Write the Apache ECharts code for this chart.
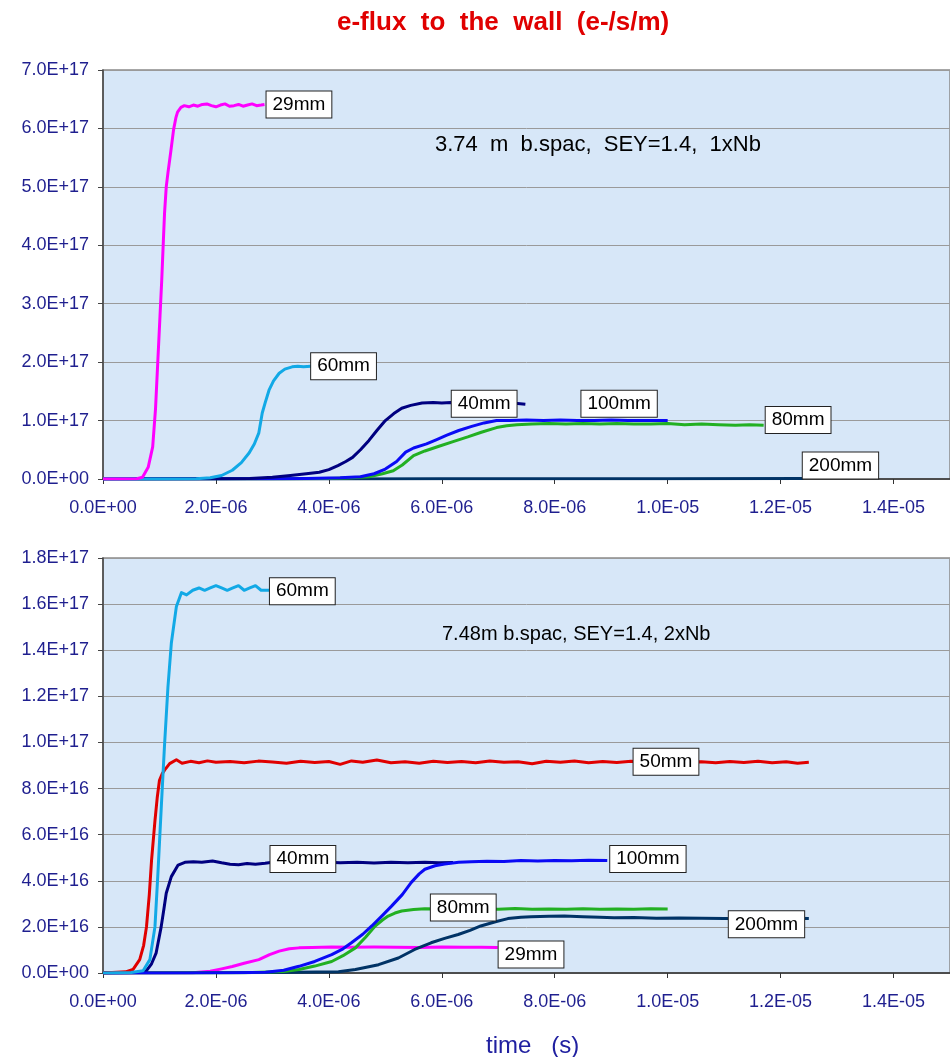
<!DOCTYPE html>
<html>
<head>
<meta charset="utf-8">
<script src="https://cdn.jsdelivr.net/npm/echarts@6/dist/echarts.min.js"></script>
<style>
html,body{margin:0;padding:0;background:#fff;}
#c{width:950px;height:1057px;}
</style>
</head>
<body>
<div id="c"></div>
<script>
// time in microseconds; top values in 1E17 e-/s/m, bottom values in 1E16 e-/s/m
const T_UNIT = 1e-6, TOP_UNIT = 1e17, BOT_UNIT = 1e16;

const xTicks = ['0.0E+00','2.0E-06','4.0E-06','6.0E-06','8.0E-06','1.0E-05','1.2E-05','1.4E-05'];

// ---------- top panel: 3.74 m b.spac, SEY=1.4, 1xNb ----------
const top29 = [[0,0],[0.3,0],[0.6,0.005],[0.7,0.03],[0.8,0.2],[0.88,0.55],[0.93,1.2],[0.97,2.0],[1.01,2.8],[1.04,3.4],[1.07,4.1],[1.09,4.55],[1.12,5.0],[1.15,5.24],[1.2,5.6],[1.25,5.98],[1.29,6.18],[1.32,6.28],[1.38,6.36],[1.44,6.39],[1.52,6.37],[1.6,6.40],[1.68,6.38],[1.76,6.41],[1.84,6.42],[1.92,6.39],[2.0,6.37],[2.08,6.40],[2.16,6.42],[2.24,6.38],[2.32,6.39],[2.4,6.41],[2.48,6.38],[2.56,6.40],[2.64,6.42],[2.72,6.39],[2.8,6.40],[2.86,6.41]];
const top60 = [[0,0],[1.0,0],[1.65,0.005],[1.9,0.02],[2.1,0.06],[2.29,0.15],[2.45,0.28],[2.59,0.45],[2.68,0.6],[2.76,0.79],[2.82,1.13],[2.87,1.3],[2.94,1.52],[3.02,1.68],[3.12,1.81],[3.22,1.88],[3.35,1.92],[3.45,1.93],[3.55,1.92],[3.68,1.93]];
const top40 = [[0,0],[2.0,0.003],[2.6,0.01],[3.0,0.03],[3.32,0.06],[3.6,0.09],[3.83,0.115],[4.0,0.16],[4.16,0.23],[4.3,0.3],[4.42,0.37],[4.56,0.5],[4.71,0.66],[4.85,0.83],[5.0,1.0],[5.15,1.12],[5.29,1.21],[5.45,1.26],[5.65,1.3],[5.85,1.31],[6.0,1.3],[6.16,1.31],[6.4,1.29],[6.7,1.3],[7.0,1.29],[7.25,1.3],[7.48,1.28]];
const top100 = [[0,0],[3.0,0.003],[3.6,0.01],[4.2,0.02],[4.56,0.04],[4.8,0.09],[5.0,0.17],[5.2,0.3],[5.36,0.46],[5.5,0.53],[5.73,0.6],[5.9,0.67],[6.09,0.75],[6.3,0.83],[6.53,0.9],[6.75,0.96],[6.97,1.0],[7.2,1.0],[7.5,1.01],[7.8,1.0],[8.1,1.01],[8.4,1.0],[8.7,1.0],[9.0,1.01],[9.3,1.0],[9.6,1.0],[10.0,1.0]];
const top80 = [[0,0],[3.2,0.003],[4.0,0.01],[4.4,0.02],[4.71,0.04],[4.95,0.09],[5.14,0.14],[5.3,0.24],[5.5,0.4],[5.7,0.48],[5.95,0.56],[6.2,0.64],[6.46,0.72],[6.7,0.8],[6.97,0.88],[7.15,0.91],[7.33,0.93],[7.6,0.94],[7.9,0.95],[8.2,0.94],[8.5,0.95],[8.8,0.94],[9.1,0.95],[9.4,0.94],[9.7,0.94],[10.0,0.95],[10.3,0.93],[10.6,0.94],[10.9,0.93],[11.2,0.92],[11.45,0.93],[11.7,0.92]];
const top200 = [[0,0],[4,0.002],[6,0.004],[8,0.005],[10,0.006],[12.4,0.007]];
const topLabels = [['29mm',3.47,6.41],['60mm',4.26,1.93],['40mm',6.75,1.29],['100mm',9.14,1.29],['80mm',12.31,1.01],['200mm',13.06,0.23]];

// ---------- bottom panel: 7.48m b.spac, SEY=1.4, 2xNb ----------
const bot60 = [[0,0],[0.5,0.02],[0.71,0.1],[0.83,0.58],[0.92,2.0],[0.97,4.2],[1.03,7.1],[1.09,9.9],[1.15,12.4],[1.21,14.3],[1.3,15.9],[1.39,16.5],[1.48,16.4],[1.59,16.6],[1.7,16.7],[1.8,16.6],[1.9,16.7],[2.0,16.8],[2.1,16.7],[2.2,16.6],[2.3,16.7],[2.4,16.8],[2.5,16.6],[2.6,16.7],[2.7,16.8],[2.8,16.6],[2.94,16.6]];
const bot50 = [[0,0],[0.4,0.05],[0.53,0.15],[0.65,0.58],[0.72,1.2],[0.77,2.0],[0.82,3.4],[0.86,4.9],[0.92,6.6],[0.96,7.6],[1.0,8.36],[1.05,8.65],[1.09,8.8],[1.18,9.08],[1.3,9.25],[1.4,9.1],[1.55,9.18],[1.7,9.12],[1.85,9.2],[2.0,9.14],[2.25,9.17],[2.5,9.12],[2.75,9.19],[3.0,9.15],[3.25,9.1],[3.5,9.18],[3.75,9.13],[4.0,9.17],[4.2,9.05],[4.4,9.2],[4.6,9.14],[4.85,9.24],[5.1,9.12],[5.35,9.16],[5.6,9.1],[5.85,9.18],[6.1,9.13],[6.35,9.17],[6.6,9.12],[6.85,9.2],[7.1,9.14],[7.35,9.16],[7.6,9.08],[7.85,9.18],[8.1,9.14],[8.35,9.2],[8.6,9.12],[8.85,9.17],[9.1,9.13],[9.35,9.18],[9.6,9.15],[10.6,9.16],[10.85,9.12],[11.1,9.17],[11.35,9.13],[11.6,9.18],[11.85,9.12],[12.1,9.16],[12.3,9.1],[12.5,9.14]];
const bot40 = [[0,0],[0.6,0.02],[0.77,0.1],[0.86,0.4],[0.94,0.86],[1.03,2.0],[1.08,2.8],[1.12,3.46],[1.21,4.18],[1.33,4.68],[1.45,4.8],[1.6,4.82],[1.75,4.8],[1.94,4.86],[2.1,4.78],[2.25,4.72],[2.4,4.7],[2.55,4.75],[2.7,4.72],[2.87,4.76],[3.0,4.8],[3.3,4.82],[3.6,4.79],[3.9,4.81],[4.2,4.78],[4.5,4.8],[4.8,4.77],[5.1,4.8],[5.4,4.78],[5.7,4.8],[5.95,4.78],[6.2,4.79]];
const bot100 = [[0,0],[1.5,0.005],[2.3,0.01],[2.88,0.03],[3.2,0.12],[3.47,0.29],[3.75,0.5],[4.05,0.8],[4.25,1.05],[4.4,1.31],[4.6,1.68],[4.76,2.04],[4.95,2.5],[5.11,2.9],[5.3,3.4],[5.46,3.93],[5.6,4.3],[5.7,4.5],[5.88,4.65],[6.05,4.73],[6.3,4.8],[6.52,4.83],[6.8,4.85],[7.1,4.84],[7.4,4.88],[7.7,4.86],[8.0,4.88],[8.3,4.87],[8.6,4.89],[8.93,4.88]];
const bot80 = [[0,0],[2.5,0.01],[3.2,0.06],[3.47,0.15],[3.75,0.3],[4.05,0.5],[4.25,0.75],[4.47,1.09],[4.65,1.55],[4.82,2.04],[4.95,2.3],[5.05,2.47],[5.17,2.6],[5.29,2.69],[5.5,2.75],[5.7,2.79],[6.0,2.78],[6.3,2.8],[6.6,2.78],[7.0,2.77],[7.3,2.8],[7.6,2.76],[7.9,2.78],[8.2,2.77],[8.5,2.79],[8.8,2.76],[9.1,2.78],[9.4,2.77],[9.7,2.79],[10.0,2.78]];
const bot200 = [[0,0],[3.0,0.02],[4.17,0.05],[4.47,0.15],[4.88,0.36],[5.23,0.65],[5.52,1.02],[5.81,1.31],[6.05,1.5],[6.29,1.67],[6.5,1.85],[6.69,2.04],[6.95,2.22],[7.17,2.36],[7.4,2.42],[7.58,2.44],[7.9,2.46],[8.17,2.47],[8.5,2.44],[8.8,2.42],[9.05,2.4],[9.4,2.41],[9.8,2.38],[10.2,2.39],[10.6,2.37],[11.0,2.36],[11.4,2.35],[11.8,2.36],[12.2,2.37],[12.5,2.36]];
const bot29 = [[0,0],[1.59,0.01],[1.9,0.08],[2.1,0.18],[2.29,0.28],[2.5,0.42],[2.76,0.58],[2.95,0.8],[3.12,0.95],[3.3,1.05],[3.47,1.09],[3.7,1.11],[4.05,1.13],[4.4,1.12],[4.8,1.13],[5.2,1.12],[5.6,1.11],[6.0,1.13],[6.4,1.12],[6.7,1.12],[6.99,1.11]];
const botLabels = [['60mm',3.53,16.56],['50mm',9.97,9.16],['40mm',3.54,4.95],['100mm',9.65,4.95],['80mm',6.38,2.84],['200mm',11.75,2.11],['29mm',7.58,0.8]];

const FONT = '"Liberation Sans", Arial, sans-serif';
const AXC = '#1f1f8f';

function sci(v){
  if (Math.abs(v) < 1e-30) return '0.0E+00';
  const s = v.toExponential(1).split('e');
  const e = parseInt(s[1],10);
  return s[0] + 'E' + (e<0?'-':'+') + String(Math.abs(e)).padStart(2,'0');
}
function conv(pts, yu){ return pts.map(p => [p[0]*T_UNIT, p[1]*yu]); }

function line(name, color, pts, yu, gi, z){
  return {type:'line', name, xAxisIndex:gi, yAxisIndex:gi, data:conv(pts,yu),
    showSymbol:false, symbol:'none', smooth:false, silent:true, z:z||2,
    lineStyle:{color, width:3, join:'round'}};
}
function labels(list, yu, gi){
  return {type:'scatter', xAxisIndex:gi, yAxisIndex:gi, symbolSize:1, z:20, silent:true,
    itemStyle:{color:'#ffffff', opacity:1},
    data: list.map(l => ({name:l[0], value:[l[1]*T_UNIT, l[2]*yu]})),
    label:{show:true, position:'inside', formatter:'{b}', color:'#000000', opacity:1,
      textBorderWidth:0, fontFamily:FONT, fontSize:19,
      backgroundColor:'#ffffff', borderColor:'#222', borderWidth:1, padding:[4,6,3,6]}};
}

function xAx(gi){
  return {type:'value', gridIndex:gi, min:0, max:1.5e-5, interval:2e-6,
    axisLine:{show:true, onZero:false, lineStyle:{color:'#333', width:1.5}},
    axisTick:{show:true, length:5, lineStyle:{color:'#333'}},
    splitLine:{show:false},
    axisLabel:{showMaxLabel:false, margin:20, color:AXC, fontFamily:FONT, fontSize:18,
      formatter:(v)=>{ const i = Math.round(v/2e-6); return xTicks[i] !== undefined ? xTicks[i] : ''; }}};
}
function yAx(gi, max, interval){
  return {type:'value', gridIndex:gi, min:0, max, interval,
    axisLine:{show:true, lineStyle:{color:'#444', width:1.5}},
    axisTick:{show:true, length:5, lineStyle:{color:'#444'}},
    splitLine:{show:true, lineStyle:{color:'#9a9a9a', width:1}},
    axisLabel:{margin:14, color:AXC, fontFamily:FONT, fontSize:18, formatter:sci}};
}

const chart = echarts.init(document.getElementById('c'), null, {renderer:'canvas'});
chart.setOption({
  animation:false,
  backgroundColor:'#fff',
  title:[
    {text:'e-flux  to  the  wall  (e-/s/m)', left:332, top:5,
     textStyle:{color:'#e00000', fontFamily:FONT, fontSize:26, fontWeight:'bold'}},
    {text:'3.74  m  b.spac,  SEY=1.4,  1xNb', left:430, top:129,
     textStyle:{color:'#000', fontFamily:FONT, fontSize:22, fontWeight:'normal'}},
    {text:'7.48m b.spac, SEY=1.4, 2xNb', left:437, top:619,
     textStyle:{color:'#000', fontFamily:FONT, fontSize:20, fontWeight:'normal'}},
    {text:'time   (s)', left:481, top:1029,
     textStyle:{color:'#2020a0', fontFamily:FONT, fontSize:24, fontWeight:'normal'}}
  ],
  grid:[
    {left:103, right:-5, top:70, height:409, show:true, backgroundColor:'#d7e7f8', borderColor:'#8a8a8a', borderWidth:1.5},
    {left:103, right:-5, top:558, height:415, show:true, backgroundColor:'#d7e7f8', borderColor:'#8a8a8a', borderWidth:1.5}
  ],
  xAxis:[xAx(0), xAx(1)],
  yAxis:[yAx(0, 7e17, 1e17), yAx(1, 1.8e17, 2e16)],
  series:[
    line('200mm','#003366',top200,TOP_UNIT,0,2),
    line('80mm','#22b022',top80,TOP_UNIT,0,3),
    line('100mm','#0a0af5',top100,TOP_UNIT,0,4),
    line('40mm','#000080',top40,TOP_UNIT,0,5),
    line('60mm','#12a9e6',top60,TOP_UNIT,0,6),
    line('29mm','#ff00ff',top29,TOP_UNIT,0,7),
    labels(topLabels,TOP_UNIT,0),
    line('29mm','#ff00ff',bot29,BOT_UNIT,1,2),
    line('200mm','#003366',bot200,BOT_UNIT,1,3),
    line('80mm','#22b022',bot80,BOT_UNIT,1,4),
    line('40mm','#000080',bot40,BOT_UNIT,1,5),
    line('100mm','#0a0af5',bot100,BOT_UNIT,1,6),
    line('50mm','#e00000',bot50,BOT_UNIT,1,7),
    line('60mm','#12a9e6',bot60,BOT_UNIT,1,8),
    labels(botLabels,BOT_UNIT,1)
  ]
});
</script>
</body>
</html>
